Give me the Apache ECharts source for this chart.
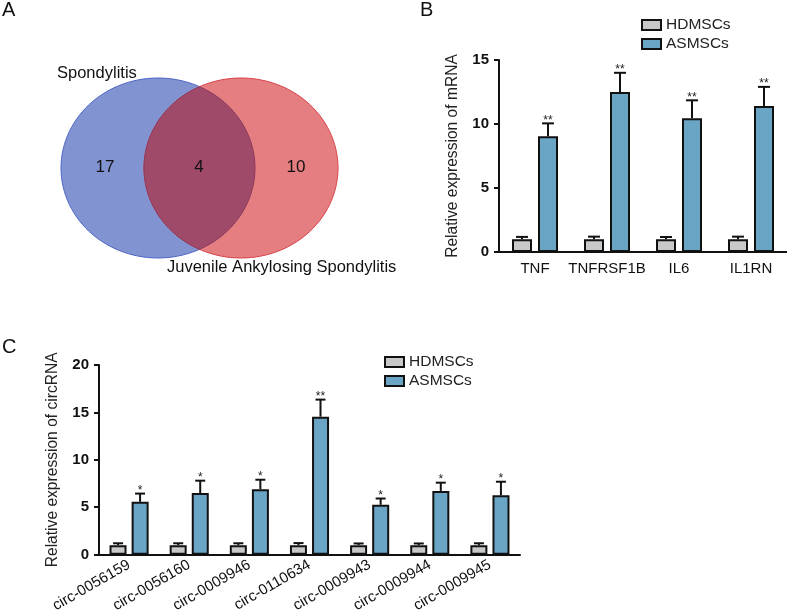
<!DOCTYPE html>
<html lang="en">
<head>
<meta charset="UTF-8">
<title>Venn + relative expression</title>
<script src="https://cdn.jsdelivr.net/npm/echarts@6/dist/echarts.min.js"></script>
<style>
    html, body { margin: 0; padding: 0; background: #fff; }
    #chart { width: 787px; height: 615px; }
</style>
</head>
<body>
<div id="chart"></div>
<script>
// panel A - venn
var vennSets = ['Spondylitis', 'Juvenile Ankylosing Spondylitis'];
var vennCounts = [17, 4, 10];   // only left, both, only right

// panel B - mRNA
var mrnaGenes = ['TNF', 'TNFRSF1B', 'IL6', 'IL1RN'];
var mrnaHD = [1.0, 1.0, 1.0, 1.0];
var mrnaHDErr = [0.18, 0.2, 0.17, 0.2];
var mrnaAS = [9.05, 12.5, 10.45, 11.4];
var mrnaASErr = [1.0, 1.5, 1.4, 1.5];
var mrnaStars = ['**', '**', '**', '**'];

// panel C - circRNA
var circNames = ['circ-0056159', 'circ-0056160', 'circ-0009946', 'circ-0110634', 'circ-0009943', 'circ-0009944', 'circ-0009945'];
var circHD = [1.0, 1.0, 1.0, 1.0, 1.0, 1.0, 1.0];
var circHDErr = [0.2, 0.2, 0.2, 0.22, 0.18, 0.18, 0.2];
var circAS = [5.57, 6.5, 6.9, 14.55, 5.26, 6.72, 6.26];
var circASErr = [0.87, 1.3, 1.0, 1.8, 0.66, 0.87, 1.43];
var circStars = ['*', '*', '*', '**', '*', '*', '*'];

var FONT = 'Arial, "Liberation Sans", sans-serif';
var greyFill = '#c8c8c8';
var blueFill = '#6aa5c6';

// venn drawing layout (in the hidden panel A axes, 0..400 x 0..300)
var vennLayout = {
    cx: [158, 241], cy: 168, rx: 97, ry: 90,
    countPos: [[105, 167], [199, 167], [296, 167]],
    namePos: [[57, 73], [167, 267]]
};

function ellipsePts(api, cx, cy, rx, ry) {
    var pts = [];
    for (var k = 0; k < 120; k++) {
        var t = k / 120 * Math.PI * 2;
        pts.push(api.coord([cx + rx * Math.cos(t), cy + ry * Math.sin(t)]));
    }
    return pts;
}

function renderVenn(params, api) {
    var L = vennLayout;
    var dx = (L.cx[1] - L.cx[0]) / 2;
    var t0 = Math.acos(dx / L.rx);
    var lens = [];
    // right side of left ellipse, then left side of right ellipse
    for (var k = 0; k <= 40; k++) {
        var a = -t0 + 2 * t0 * k / 40;
        lens.push(api.coord([L.cx[0] + L.rx * Math.cos(a), L.cy + L.ry * Math.sin(a)]));
    }
    for (k = 0; k <= 40; k++) {
        var b = Math.PI - t0 + 2 * t0 * k / 40;
        lens.push(api.coord([L.cx[1] + L.rx * Math.cos(b), L.cy + L.ry * Math.sin(b)]));
    }
    var kids = [
        { type: 'polygon', shape: { points: ellipsePts(api, L.cx[0], L.cy, L.rx, L.ry) },
          style: { fill: '#8293d1', stroke: '#4f66c6', lineWidth: 1 } },
        { type: 'polygon', shape: { points: ellipsePts(api, L.cx[1], L.cy, L.rx, L.ry) },
          style: { fill: '#e57e80', stroke: '#d8434b', lineWidth: 1 } },
        { type: 'polygon', shape: { points: lens },
          style: { fill: '#a04a6a', stroke: '#8c3c5e', lineWidth: 1 } }
    ];
    vennCounts.forEach(function (c, i) {
        var p = api.coord(L.countPos[i]);
        kids.push({ type: 'text', style: { x: p[0], y: p[1], text: String(c), fontSize: 17,
            fontFamily: FONT, fill: '#111', align: 'center', verticalAlign: 'middle' } });
    });
    vennSets.forEach(function (s, i) {
        var p = api.coord(L.namePos[i]);
        kids.push({ type: 'text', style: { x: p[0], y: p[1], text: s, fontSize: 16.5,
            fontFamily: FONT, fill: '#111', align: 'left', verticalAlign: 'middle' } });
    });
    return { type: 'group', children: kids };
}

// error bar with cap, optional stars
function errorBar(offset, capHalf, stars) {
    return function (params, api) {
        var i = api.value(0);
        var base = api.coord([i, api.value(1)]);
        var top = api.coord([i, api.value(1) + api.value(2)]);
        var x = base[0] + offset;
        var st = { stroke: '#111', lineWidth: 2 };
        var kids = [
            { type: 'line', shape: { x1: x, y1: base[1], x2: x, y2: top[1] }, style: st },
            { type: 'line', shape: { x1: x - capHalf, y1: top[1], x2: x + capHalf, y2: top[1] }, style: st }
        ];
        if (stars) {
            kids.push({ type: 'text', style: { x: x, y: top[1] + 3, text: stars[params.dataIndex],
                fontSize: 12, fontFamily: FONT, fill: '#222', align: 'center', verticalAlign: 'bottom' } });
        }
        return { type: 'group', children: kids };
    };
}

function pairs(vals, errs) {
    return vals.map(function (v, i) { return [i, v, errs[i]]; });
}

function catAxis(grid, names, rotate) {
    return {
        gridIndex: grid, type: 'category', data: names,
        axisLine: { lineStyle: { color: '#111', width: 2 } },
        axisTick: { show: false },
        axisLabel: { fontSize: 15, fontFamily: FONT, color: '#111', margin: 9, rotate: rotate, interval: 0 }
    };
}

function valAxis(grid, max, title) {
    return {
        gridIndex: grid, type: 'value', min: 0, max: max, interval: 5,
        splitLine: { show: false },
        axisLine: { show: true, lineStyle: { color: '#111', width: 2 } },
        axisTick: { show: true, length: 5, lineStyle: { color: '#111', width: 2 } },
        axisLabel: { fontSize: 15, fontWeight: 'bold', fontFamily: FONT, color: '#111', margin: 10 },
        name: title, nameLocation: 'middle', nameGap: 38,
        nameTextStyle: { fontSize: 15.6, fontFamily: FONT, color: '#222' }
    };
}

function barSeries(name, axis, data, color, width) {
    return {
        name: name, type: 'bar', xAxisIndex: axis, yAxisIndex: axis, data: data,
        barWidth: width, barGap: '30%',
        itemStyle: { color: color, borderColor: '#111', borderWidth: 2 }
    };
}

function errSeries(axis, data, offset, cap, stars) {
    return {
        type: 'custom', xAxisIndex: axis, yAxisIndex: axis, z: 5, silent: true,
        encode: { x: 0, y: 1 }, data: data, renderItem: errorBar(offset, cap, stars)
    };
}

var legendBase = {
    orient: 'vertical', data: ['HDMSCs', 'ASMSCs'], icon: 'rect', padding: 0,
    itemWidth: 19, itemHeight: 10, itemGap: 3,
    textStyle: { fontSize: 15.5, fontFamily: FONT, color: '#222' }
};

var chart = echarts.init(document.getElementById('chart'));
chart.setOption({
    animation: false,
    textStyle: { fontFamily: FONT },
    grid: [
        { left: 0, top: 0, width: 400, height: 300 },
        { left: 499, top: 60, width: 288, height: 192 },
        { left: 99, top: 365, width: 421, height: 192 }
    ],
    xAxis: [
        { gridIndex: 0, type: 'value', min: 0, max: 400, show: false },
        catAxis(1, mrnaGenes, 0),
        catAxis(2, circNames, 30)
    ],
    yAxis: [
        { gridIndex: 0, type: 'value', min: 0, max: 300, inverse: true, show: false },
        valAxis(1, 15, 'Relative expression of mRNA'),
        valAxis(2, 20, 'Relative expression of circRNA')
    ],
    legend: [
        Object.assign({ left: 641, top: 17 }, legendBase),
        Object.assign({ left: 384, top: 354 }, legendBase)
    ],
    graphic: [
        { type: 'text', left: 2, top: 0, style: { text: 'A', fontSize: 20, fontFamily: FONT, fill: '#111' } },
        { type: 'text', left: 420, top: 0, style: { text: 'B', fontSize: 20, fontFamily: FONT, fill: '#111' } },
        { type: 'text', left: 2, top: 337, style: { text: 'C', fontSize: 20, fontFamily: FONT, fill: '#111' } }
    ],
    series: [
        { type: 'custom', xAxisIndex: 0, yAxisIndex: 0, silent: true, data: [[0, 0]], renderItem: renderVenn },
        barSeries('HDMSCs', 1, mrnaHD, greyFill, 20),
        barSeries('ASMSCs', 1, mrnaAS, blueFill, 20),
        errSeries(1, pairs(mrnaHD, mrnaHDErr), -13, 6, null),
        errSeries(1, pairs(mrnaAS, mrnaASErr), 13, 6, mrnaStars),
        barSeries('HDMSCs', 2, circHD, greyFill, 17),
        barSeries('ASMSCs', 2, circAS, blueFill, 17),
        errSeries(2, pairs(circHD, circHDErr), -11, 5, null),
        errSeries(2, pairs(circAS, circASErr), 11, 5, circStars)
    ]
});
</script>
</body>
</html>
